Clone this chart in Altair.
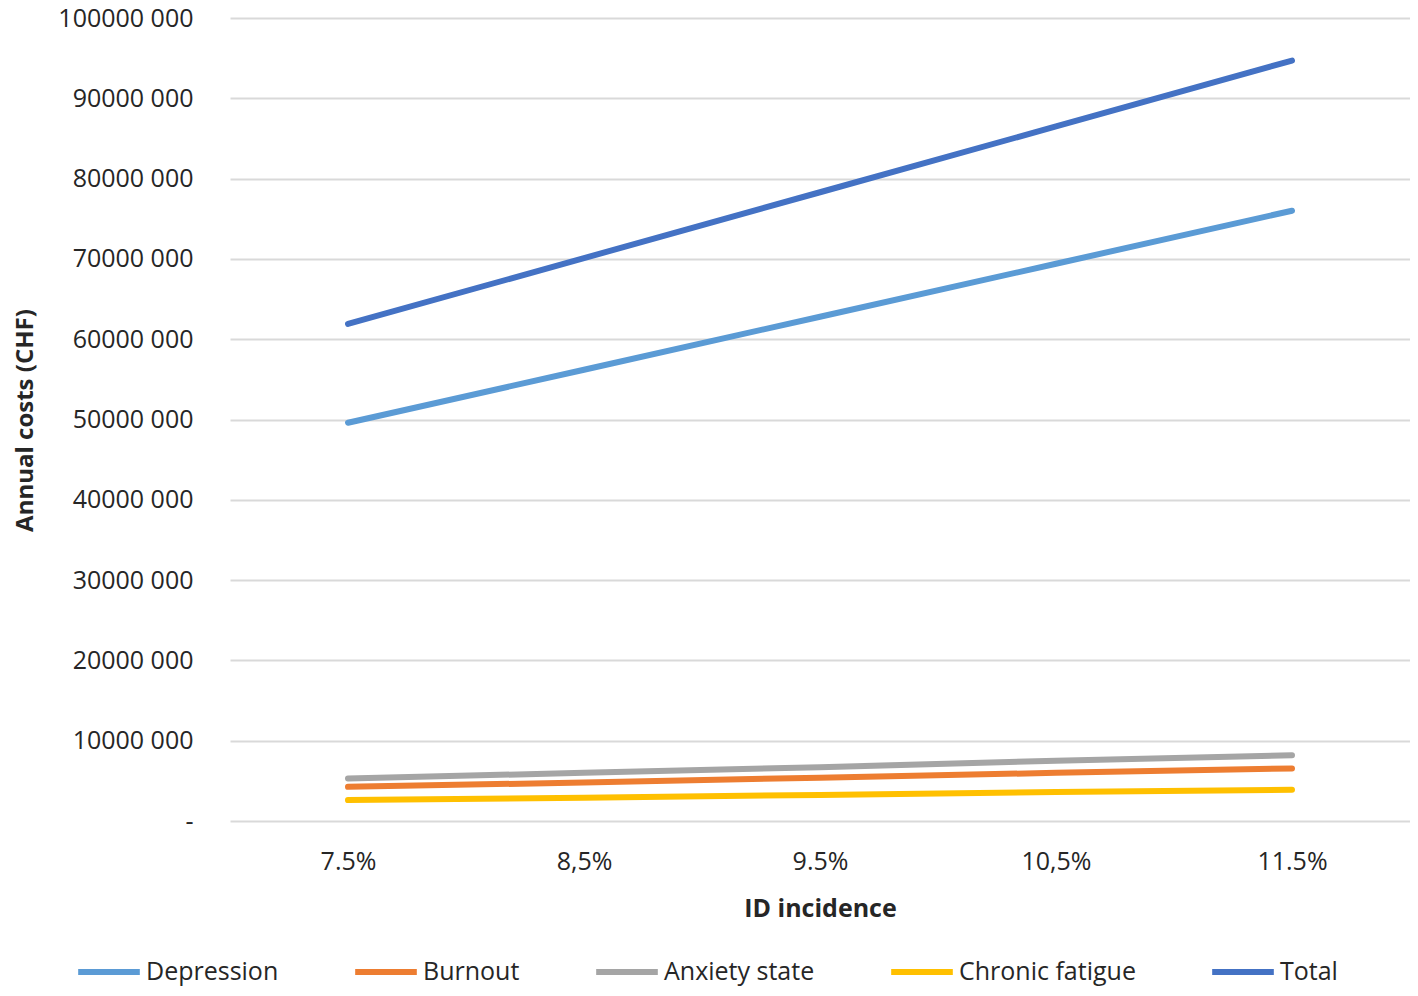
import altair as alt
import pandas as pd

incidence = ["7.5%", "8,5%", "9.5%", "10,5%", "11.5%"]
series = ["Depression", "Burnout", "Anxiety state", "Chronic fatigue", "Total"]
depression = [49.6e6, 56.2e6, 62.8e6, 69.4e6, 76.0e6]
burnout = [4.25e6, 4.8e6, 5.4e6, 6.0e6, 6.55e6]
anxiety = [5.3e6, 6.0e6, 6.7e6, 7.5e6, 8.2e6]
fatigue = [2.6e6, 2.9e6, 3.25e6, 3.6e6, 3.9e6]
total = [61.9e6, 70.1e6, 78.3e6, 86.5e6, 94.7e6]
colors = ["#5B9BD5", "#ED7D31", "#A5A5A5", "#FFC000", "#4472C4"]

rows = []
for name, vals in zip(series, [depression, burnout, anxiety, fatigue, total]):
    for x, v in zip(incidence, vals):
        rows.append({"incidence": x, "series": name, "value": v, "order": series.index(name)})
df = pd.DataFrame(rows)

FONT = "Open Sans"
TXT = "#262626"

chart = alt.Chart(df).mark_line(strokeWidth=6, strokeCap="round").encode(
    x=alt.X("incidence:N", sort=incidence,
            scale=alt.Scale(type="point", padding=0.5),
            axis=alt.Axis(title="ID incidence", labelAngle=0, grid=False, domain=False, ticks=False,
                          labelFontSize=25, labelPadding=28, labelColor=TXT, labelFont=FONT,
                          titleFontSize=25, titleFontWeight="bold", titleColor=TXT, titleFont=FONT,
                          titlePadding=22)),
    y=alt.Y("value:Q", scale=alt.Scale(domain=[0, 100e6], nice=False),
            axis=alt.Axis(title="Annual costs (CHF)", values=[i * 10e6 for i in range(11)],
                          labelExpr="datum.value == 0 ? '-\u00a0\u00a0\u00a0\u00a0' : format(datum.value/1000, 'd') + ' 000'",
                          domain=False, ticks=False, gridColor="#D9D9D9", gridWidth=2,
                          labelFontSize=25, labelPadding=37, labelColor=TXT, labelFont=FONT,
                          titleFontSize=24, titleFontWeight="bold", titleColor=TXT, titleFont=FONT,
                          titleX=-205, titleY=402, titleAngle=-90, titleAlign="center",
                          titleBaseline="middle")),
    color=alt.Color("series:N", sort=series,
                    scale=alt.Scale(domain=series, range=colors),
                    legend=alt.Legend(title=None, orient="none", direction="horizontal",
                                      legendX=-155, legendY=920,
                                      symbolType="stroke", symbolSize=3800, symbolStrokeWidth=6,
                                      labelFontSize=25, labelFont=FONT, labelColor=TXT,
                                      labelOffset=3, columnPadding=64, labelLimit=400)),
    order=alt.Order("order:Q"),
).properties(
    width=1180, height=803,
    autosize=alt.AutoSizeParams(type="none"),
    padding={"left": 222, "top": 10, "right": 0, "bottom": 168},
).configure_view(stroke=None)

chart.save("out.html", embed_options={"renderer": "svg", "actions": False})
